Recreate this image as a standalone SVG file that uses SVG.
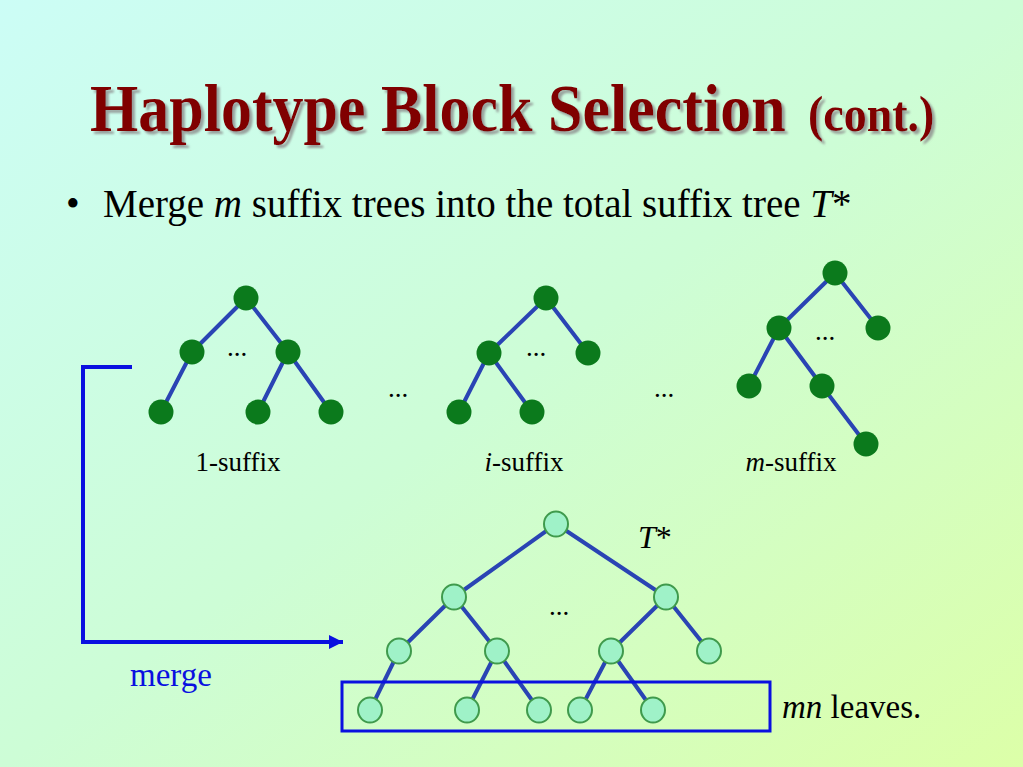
<svg xmlns="http://www.w3.org/2000/svg" width="1023" height="767" viewBox="0 0 1023 767">
<defs>
<linearGradient id="bg" x1="0" y1="0" x2="1" y2="1">
<stop offset="0" stop-color="#ccfdf6"/>
<stop offset="0.5" stop-color="#cdfdd6"/>
<stop offset="1" stop-color="#dcffa8"/>
</linearGradient>
<filter id="shadow" x="-5%" y="-20%" width="115%" height="150%">
<feGaussianBlur in="SourceAlpha" stdDeviation="0.8" result="b"/>
<feOffset in="b" dx="3" dy="3" result="o"/>
<feFlood flood-color="#8c8c8c" flood-opacity="0.8"/>
<feComposite in2="o" operator="in" result="s"/>
<feMerge><feMergeNode in="s"/><feMergeNode in="SourceGraphic"/></feMerge>
</filter>
<marker id="arr" viewBox="0 0 10 10" refX="10" refY="5" markerWidth="3.5" markerHeight="3.5" orient="auto" markerUnits="strokeWidth">
<path d="M0,0 L10,5 L0,10 z" fill="#0a10e0"/>
</marker>
<style>
.title{font-family:"Liberation Serif","Times New Roman",serif;font-weight:bold;fill:#800000}
.t{font-family:"Liberation Serif","Times New Roman",serif;fill:#000}
.dots{font-family:"Liberation Serif","Times New Roman",serif;font-size:27px;fill:#000;text-anchor:middle}
.e{stroke:#2a44b4;stroke-width:4;fill:none;stroke-linecap:round}
.dn{fill:#0b7a1c}
.ln{fill:#9ff2c8;stroke:#3f9a4c;stroke-width:2}
.blue{stroke:#0a10e0;fill:none}
</style>
</defs>
<rect x="0" y="0" width="1023" height="767" fill="url(#bg)"/>

<g id="title" filter="url(#shadow)">
<text class="title" transform="translate(90,131) scale(1,1.08)" font-size="62">Haplotype Block Selection</text>
<text class="title" transform="translate(808,131) scale(1,1.08)" font-size="46">(cont.)</text>
</g>

<g id="bullet">
<text class="t" x="66" y="217" font-size="39">•</text>
<text class="t" x="103" y="217" font-size="39">Merge <tspan font-style="italic">m</tspan> suffix trees into the total suffix tree <tspan font-style="italic">T</tspan>*</text>
</g>

<g id="connectors">
<!-- tree 1 -->
<line class="e" x1="246" y1="298" x2="192" y2="352"/>
<line class="e" x1="246" y1="298" x2="288" y2="352"/>
<line class="e" x1="192" y1="352" x2="161" y2="412"/>
<line class="e" x1="288" y1="352" x2="258" y2="412"/>
<line class="e" x1="288" y1="352" x2="331" y2="412"/>
<!-- tree 2 -->
<line class="e" x1="546" y1="298" x2="489" y2="353"/>
<line class="e" x1="546" y1="298" x2="588" y2="353"/>
<line class="e" x1="489" y1="353" x2="459" y2="412"/>
<line class="e" x1="489" y1="353" x2="532" y2="412"/>
<!-- tree 3 -->
<line class="e" x1="835" y1="273" x2="779" y2="328"/>
<line class="e" x1="835" y1="273" x2="878" y2="328"/>
<line class="e" x1="779" y1="328" x2="749" y2="386"/>
<line class="e" x1="779" y1="328" x2="822" y2="386"/>
<line class="e" x1="822" y1="386" x2="866" y2="444"/>
<!-- T* tree -->
<line class="e" x1="556" y1="524" x2="454" y2="597"/>
<line class="e" x1="556" y1="524" x2="666" y2="597"/>
<line class="e" x1="454" y1="597" x2="399" y2="651"/>
<line class="e" x1="454" y1="597" x2="497" y2="651"/>
<line class="e" x1="666" y1="597" x2="611" y2="651"/>
<line class="e" x1="666" y1="597" x2="709" y2="651"/>
<line class="e" x1="399" y1="651" x2="370" y2="710"/>
<line class="e" x1="497" y1="651" x2="467" y2="710"/>
<line class="e" x1="497" y1="651" x2="539" y2="710"/>
<line class="e" x1="611" y1="651" x2="580" y2="710"/>
<line class="e" x1="611" y1="651" x2="653" y2="710"/>
<!-- merge bracket arrow -->
<polyline class="blue" stroke-width="4" points="132,367 83,367 83,642 343,642" marker-end="url(#arr)"/>
</g>

<g id="tree1">
<circle class="dn" cx="246" cy="298" r="12.5"/>
<circle class="dn" cx="192" cy="352" r="12.5"/>
<circle class="dn" cx="288" cy="352" r="12.5"/>
<circle class="dn" cx="161" cy="412" r="12.5"/>
<circle class="dn" cx="258" cy="412" r="12.5"/>
<circle class="dn" cx="331" cy="412" r="12.5"/>
<text class="dots" x="237" y="356">...</text>
<text class="t" x="238" y="471" font-size="27" text-anchor="middle">1-suffix</text>
</g>

<g id="tree2">
<circle class="dn" cx="546" cy="298" r="12.5"/>
<circle class="dn" cx="489" cy="353" r="12.5"/>
<circle class="dn" cx="588" cy="353" r="12.5"/>
<circle class="dn" cx="459" cy="412" r="12.5"/>
<circle class="dn" cx="532" cy="412" r="12.5"/>
<text class="dots" x="536" y="356">...</text>
<text class="t" x="524" y="471" font-size="27" text-anchor="middle"><tspan font-style="italic">i</tspan>-suffix</text>
</g>

<g id="tree3">
<circle class="dn" cx="835" cy="273" r="12.5"/>
<circle class="dn" cx="779" cy="328" r="12.5"/>
<circle class="dn" cx="878" cy="328" r="12.5"/>
<circle class="dn" cx="749" cy="386" r="12.5"/>
<circle class="dn" cx="822" cy="386" r="12.5"/>
<circle class="dn" cx="866" cy="444" r="12.5"/>
<text class="dots" x="825" y="340">...</text>
<text class="t" x="791" y="471" font-size="27" text-anchor="middle"><tspan font-style="italic">m</tspan>-suffix</text>
</g>

<g id="between-dots">
<text class="dots" x="398" y="397">...</text>
<text class="dots" x="664" y="397">...</text>
</g>

<g id="tstar">
<ellipse class="ln" cx="556" cy="524" rx="12" ry="12.5"/>
<ellipse class="ln" cx="454" cy="597" rx="12" ry="12.5"/>
<ellipse class="ln" cx="666" cy="597" rx="12" ry="12.5"/>
<ellipse class="ln" cx="399" cy="651" rx="12" ry="12.5"/>
<ellipse class="ln" cx="497" cy="651" rx="12" ry="12.5"/>
<ellipse class="ln" cx="611" cy="651" rx="12" ry="12.5"/>
<ellipse class="ln" cx="709" cy="651" rx="12" ry="12.5"/>
<ellipse class="ln" cx="370" cy="710" rx="12" ry="12.5"/>
<ellipse class="ln" cx="467" cy="710" rx="12" ry="12.5"/>
<ellipse class="ln" cx="539" cy="710" rx="12" ry="12.5"/>
<ellipse class="ln" cx="580" cy="710" rx="12" ry="12.5"/>
<ellipse class="ln" cx="653" cy="710" rx="12" ry="12.5"/>
<text class="dots" x="559" y="615">...</text>
<text class="t" x="638" y="548" font-size="32" font-style="italic">T<tspan font-style="normal">*</tspan></text>
</g>

<g id="leaves-box">
<rect class="blue" stroke-width="3" x="342" y="682" width="428" height="49"/>
<text class="t" x="782" y="718" font-size="33"><tspan font-style="italic">mn</tspan> leaves.</text>
</g>

<g id="merge-label">
<text x="130" y="686" font-size="33" fill="#0a10e0" font-family="'Liberation Serif','Times New Roman',serif">merge</text>
</g>
</svg>
